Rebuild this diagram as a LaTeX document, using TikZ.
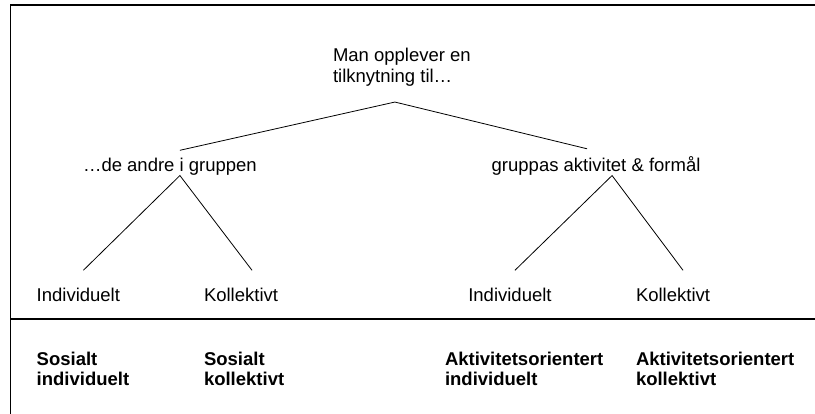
\documentclass[tikz,border=0pt]{standalone}
\usepackage{fontspec}
\setmainfont{Liberation Sans}
\usetikzlibrary{positioning}

\begin{document}
\begin{tikzpicture}[
    x = 1pt,
    y = -1pt,
    font = \fontsize{18.5}{20.4}\selectfont,
    label/.style = {inner sep=0pt, outer sep=0pt},
    topic/.style = {label, align=left, anchor=north west},
    leaf/.style = {label, anchor=base west},
    kind/.style = {label, align=left, anchor=north west, font=\fontsize{18.5}{20.4}\selectfont\bfseries},
    branch/.style = {line width=0.8pt},
    frame/.style = {line width=1.2pt}
]
    \useasboundingbox (0,0) rectangle (815,414);

    % Nodes
    \node [topic] (man) at (333,48.4) {Man opplever en\\tilknytning til…};
    \node [leaf] (social) at (83,171.7) {…de andre i gruppen};
    \node [leaf] (activity) at (491.7,171.7) {gruppas aktivitet \& formål};
    \node [leaf] (socind) at (36.7,301.7) {Individuelt};
    \node [leaf] (soccol) at (204,301.7) {Kollektivt};
    \node [leaf] (actind) at (468.3,301.7) {Individuelt};
    \node [leaf] (actcol) at (636,301.7) {Kollektivt};
    \node [kind] (kindsocind) at (36.7,351.7) {Sosialt\\individuelt};
    \node [kind] (kindsoccol) at (204,351.7) {Sosialt\\kollektivt};
    \node [kind] (kindactind) at (445,351.7) {Aktivitetsorientert\\individuelt};
    \node [kind] (kindactcol) at (636,351.7) {Aktivitetsorientert\\kollektivt};

    % Edges
    \draw [branch] ([shift={(10,-8)}]social.north) -- ([shift={(-7,16)}]man.south) -- ([shift={(-9,-8)}]activity.north);
    \draw [branch] ([shift={(5,-18)}]socind.north) -- ([shift={(10,0)}]social.south) -- ([shift={(11,-18)}]soccol.north);
    \draw [branch] ([shift={(5,-18)}]actind.north) -- ([shift={(16,0)}]activity.south) -- ([shift={(10,-18)}]actcol.north);

    % Frame
    \draw [frame] (815,5) -- (10,5);
    \draw [branch] (10,5) -- (10,414);
    \draw [frame] (10,319) -- (815,319);

\end{tikzpicture}
\end{document}
